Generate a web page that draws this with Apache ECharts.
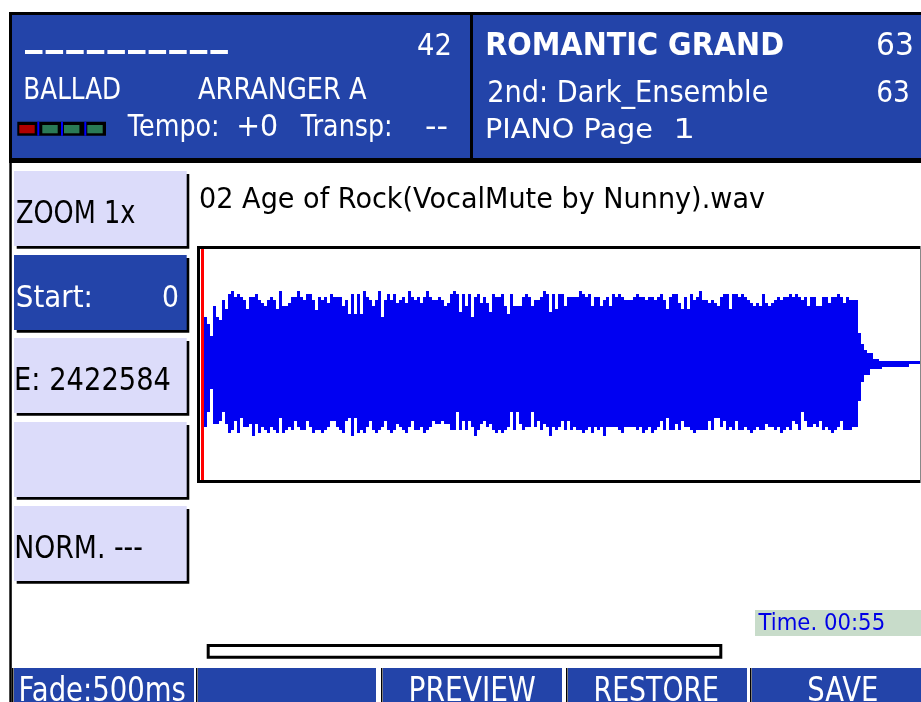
<!DOCTYPE html>
<html>
<head>
<meta charset="utf-8">
<script src="https://cdn.jsdelivr.net/npm/echarts@6.0.0/dist/echarts.min.js"></script>
<style>
html,body{margin:0;padding:0;background:#fff;}
#chart{width:921px;height:702px;}
</style>
</head>
<body>
<div id="chart"></div>
<script>
// ---- Waveform data (column index 0 = start cursor position) ----
const sampleColumns = Array.from({length: 240}, (_, i) => String(i));

const peakTop = [null,
 47,40,28,58,47,44,64,55,70,73, 67,70,67,64,55,67,67,70,64,61,
 58,64,67,64,55,73,58,58,61,67, 67,73,67,64,70,70,64,54,67,64,
 67,61,70,67,67,67,58,64,50,70, 50,70,50,73,67,64,58,64,73,47,
 64,70,64,70,61,64,67,61,73,67, 64,67,61,67,73,
 67,64,64,67,64,58,61,70,73,70, 52,70,58,70,47,67,70,61,67,61,
 52,70,67,67,70,58,50,70,58,58, 58,67,70,67,58,64,64,67,73,70,
 52,70,55,70,70,58,67,67,67,67, 73,70,67,70,58,67,67,58,64,67,
 58,70,67,70,67,64,64,64,67,70, 67,67,64,67,67,64,
 67,70,64,55,67,70,70,61,55,67, 55,70,64,67,73,64,64,61,64,61,
 58,67,70,70,55,70,70,67,70,67, 64,61,58,61,58,70,61,58,61,64,
 67,64,67,67,70,67,70,67,64,67, 58,67,67,58,58,67,67,61,67,67,
 70,67,61,67,64,64,64,
 31,20,14,11,11,5,5,3,3,3,3,3,3,3,3,3,3,3,3,3,3
];

const peakBottom = [null,
 -63,-48,-25,-60,-60,-57,-48,-60,-69,-66, -57,-69,-54,-63,-63,-60,-72,-60,-69,-63,
 -66,-69,-63,-66,-69,-54,-69,-66,-63,-66, -57,-63,-66,-66,-57,-63,-69,-66,-66,-69,
 -66,-63,-57,-57,-63,-66,-69,-57,-54,-72, -54,-69,-66,-69,-63,-57,-66,-69,-66,-63,
 -57,-66,-69,-66,-60,-63,-66,-69,-63,-57, -66,-66,-63,-69,-66,
 -63,-57,-60,-60,-57,-60,-60,-66,-66,-48, -66,-57,-66,-57,-63,-72,-66,-60,-57,-63,
 -60,-66,-69,-66,-69,-66,-63,-48,-66,-48, -60,-66,-63,-63,-48,-63,-57,-66,-60,-63,
 -72,-63,-66,-63,-57,-66,-57,-66,-63,-66, -66,-69,-66,-63,-69,-63,-66,-63,-72,-63,
 -63,-63,-63,-66,-69,-63,-63,-63,-63,-66, -63,-69,-66,-63,-69,-66,
 -63,-57,-66,-54,-66,-66,-60,-66,-57,-63, -63,-66,-69,-66,-66,-66,-66,-57,-66,-54,
 -54,-63,-57,-66,-63,-66,-57,-66,-66,-63, -66,-69,-66,-63,-66,-66,-60,-63,-63,-66,
 -63,-69,-66,-63,-66,-57,-60,-66,-48,-57, -63,-63,-60,-63,-57,-66,-63,-66,-69,-66,
 -63,-57,-66,-66,-66,-63,-63,
 -37,-18,-11,-11,-5,-5,-5,-5,-3,-3,-3,-3,-3,-3,-3,-3,-3,0,0,0,0
];

const cursorColumn = '0';

// ---- UI texts ----
const headerLeft = {num: '42', style: 'BALLAD', arr: 'ARRANGER A', tempoLbl: 'Tempo:', tempo: '+0', transpLbl: 'Transp:', transp: '--'};
const headerRight = {voice: 'ROMANTIC GRAND', voiceNum: '63', second: '2nd: Dark_Ensemble', secondNum: '63', page: 'PIANO Page', pageNum: '1'};
const sideButtons = ['ZOOM 1x', 'Start:', 'E: 2422584', '', 'NORM. ---'];
const fileName = '02 Age of Rock(VocalMute by Nunny).wav';
const timeLabel = 'Time. 00:55';
const bottomButtons = ['Fade:500ms', '', 'PREVIEW', 'RESTORE', 'SAVE'];

// ---- helpers ----
const BLUE = '#2344A9';
const LAV = '#DCDCFA';
const cv = document.createElement('canvas').getContext('2d');
const FAM = 'DejaVu Sans';
function T(str, x0, x1, capTop, capBot, color, bold) {
  const fw = bold ? 'bold ' : '';
  cv.textBaseline = 'middle';
  cv.font = fw + '100px "' + FAM + '"';
  const h = cv.measureText('H');
  const ratio = (h.actualBoundingBoxAscent + h.actualBoundingBoxDescent) / 100;
  const fs = (capBot - capTop) / ratio;
  cv.font = fw + fs + 'px "' + FAM + '"';
  const h2 = cv.measureText('H');
  const m = cv.measureText(str);
  const ink = m.actualBoundingBoxLeft + m.actualBoundingBoxRight;
  const s = (x1 - x0) / ink;
  return {
    type: 'text', silent: true, z: 20,
    x: x0 + m.actualBoundingBoxLeft * s,
    y: capTop + h2.actualBoundingBoxAscent,
    scaleX: s, scaleY: 1,
    style: {text: str, x: 0, y: 0, fill: color, fontSize: fs, fontFamily: FAM,
            fontWeight: bold ? 'bold' : 'normal', align: 'left', verticalAlign: 'middle'}
  };
}
function R(x, y, w, h, fill, z) {
  return {type: 'rect', silent: true, z: z || 10, shape: {x, y, width: w, height: h}, style: {fill}};
}

const g = [];
// header frame
g.push(R(9, 12, 912, 151, '#000', 5));
g.push(R(12, 15, 458, 143, BLUE, 6));
g.push(R(473, 15, 448, 143, BLUE, 6));
// left border line
g.push(R(9.3, 12, 2.5, 690, '#000', 5));
// dashes
for (let i = 0; i < 10; i++) g.push(R(25 + i * 20.6, 50, 17.5, 4, '#fff', 12));
// colored indicator squares
g.push(R(17.3, 121.7, 88.7, 14, '#000', 12));
g.push(R(19.3, 125, 15.4, 8.3, '#B00000', 13));
[37.3, 61, 84.3].forEach(x => g.push(R(x, 121.7, 2, 14, '#0000FF', 13)));
[42.3, 64, 87.3].forEach(x => g.push(R(x, 125, 15.4, 8.3, '#2A7A55', 13)));

g.push(T(headerLeft.num, 418, 450, 33, 55, '#fff'));
g.push(T(headerLeft.style, 25, 120, 77, 99, '#fff'));
g.push(T(headerLeft.arr, 198, 367, 77, 99, '#fff'));
g.push(T(headerLeft.tempoLbl, 127, 217, 114, 136, '#fff'));
g.push(T(headerLeft.tempo, 239, 277, 114, 136, '#fff'));
g.push(T(headerLeft.transpLbl, 300, 390, 114, 136, '#fff'));
g.push(T(headerLeft.transp, 426, 447, 114, 136, '#fff'));
g.push(T(headerRight.voice, 487, 783, 32, 55, '#fff', true));
g.push(T(headerRight.voiceNum, 878, 912, 32, 55, '#fff'));
g.push(T(headerRight.second, 489, 767, 80, 102, '#fff'));
g.push(T(headerRight.secondNum, 878, 908, 80, 102, '#fff'));
g.push(T(headerRight.page, 487, 652, 118, 138, '#fff'));
g.push(T(headerRight.pageNum, 677, 692, 118, 138, '#fff'));

// side buttons
const tops = [171, 255, 338, 422, 506];
tops.forEach((t, i) => {
  g.push(R(16.7, t + 3, 172.6, 74.7, '#000', 8));
  g.push(R(14, t, 172.7, 75, i === 1 ? BLUE : LAV, 9));
});
g.push(T(sideButtons[0], 16.7, 135, 200, 222.7, '#000'));
g.push(T(sideButtons[1], 16.7, 90, 285, 307, '#fff'));
g.push(T('0', 163, 178, 285, 307, '#fff'));
g.push(T(sideButtons[2], 16.7, 170, 367, 390, '#000'));
g.push(T(sideButtons[4], 16.7, 141.7, 535, 558, '#000'));

// file name
g.push(T(fileName, 200, 765, 187, 208, '#000'));

// waveform frame
g.push(R(197, 246, 3, 237, '#000', 15));
g.push(R(197, 246, 724, 3, '#000', 15));
g.push(R(197, 480, 724, 3, '#000', 15));
g.push(R(920, 246, 1, 237, '#888', 15));

// time box
g.push(R(755, 610, 166, 26, '#C8DCCA', 8));
g.push(T(timeLabel, 757.5, 884, 613, 629.3, '#0000E6'));

// progress bar
g.push({type: 'rect', silent: true, z: 10, shape: {x: 208.2, y: 645.5, width: 512.6, height: 11.7},
        style: {fill: '#fff', stroke: '#000', lineWidth: 3}});

// bottom buttons
const bb = [[14, 180], [198, 178], [383, 179], [568, 179], [752, 169]];
bb.forEach(([x, w]) => {
  g.push(R(x, 668, w, 34, BLUE, 8));
  g.push(R(x - 2, 668, 1.5, 34, '#000', 8));
});
g.push(T(bottomButtons[0], 21, 185, 676, 700, '#fff'));
g.push(T(bottomButtons[2], 411, 535.5, 676, 700, '#fff'));
g.push(T(bottomButtons[3], 596, 717.6, 676, 700, '#fff'));
g.push(T(bottomButtons[4], 809, 877, 676, 700, '#fff'));

const chart = echarts.init(document.getElementById('chart'), null, {renderer: 'canvas'});
chart.setOption({
  animation: false,
  backgroundColor: '#fff',
  grid: {left: 201, right: 0, top: 249, bottom: 222, containLabel: false},
  xAxis: {type: 'category', data: sampleColumns, show: false, boundaryGap: true},
  yAxis: {type: 'value', min: -116, max: 115, show: false},
  series: [
    {type: 'bar', data: peakTop, barCategoryGap: '0%', barGap: '-100%', itemStyle: {color: '#0000F2'},
     silent: true, z: 3,
     markLine: {symbol: 'none', silent: true, label: {show: false}, z: 30,
                emphasis: {disabled: true},
                lineStyle: {color: '#FF0000', width: 3, type: 'solid', opacity: 1},
                data: [{xAxis: cursorColumn}]}},
    {type: 'bar', data: peakBottom, barCategoryGap: '0%', barGap: '-100%', itemStyle: {color: '#0000F2'},
     silent: true, z: 3}
  ],
  graphic: {elements: g}
});
</script>
</body>
</html>
